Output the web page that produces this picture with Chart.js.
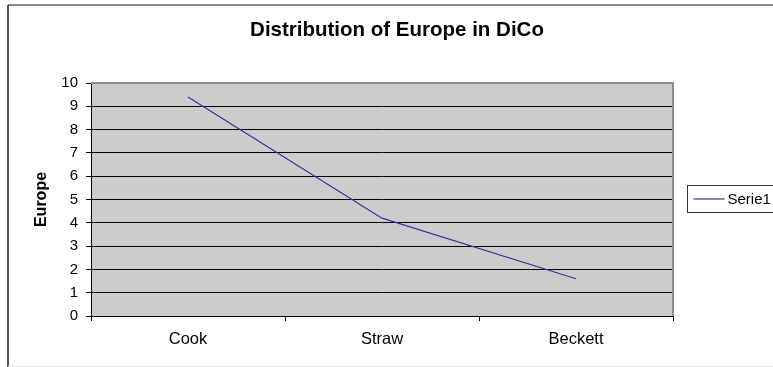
<!DOCTYPE html>
<html>
<head>
<meta charset="utf-8">
<script src="https://cdn.jsdelivr.net/npm/chart.js@4.4.1/dist/chart.umd.min.js"></script>
<style>
  html, body { margin: 0; padding: 0; background: #ffffff; }
  #wrap { width: 773px; height: 367px; position: relative; }
</style>
</head>
<body>
<div id="wrap"><canvas id="chart" width="773" height="367"></canvas></div>
<script>
// Chart data
const categories = ['Cook', 'Straw', 'Beckett'];
const europe = [9.4, 4.2, 1.6];
const seriesName = 'Serie1';
const yMin = 0;
const yMax = 10;
const yStep = 1;

const FONT = "'Liberation Sans', Arial, sans-serif";

// Page frame, grey plot fill, plot border and the side legend
const framePlugin = {
  id: 'frame',
  beforeDraw(chart) {
    const { ctx, chartArea: a, width, height } = chart;
    ctx.save();
    ctx.fillStyle = '#ffffff';
    ctx.fillRect(0, 0, width, height);
    // grey plot background
    ctx.fillStyle = '#cccccc';
    ctx.fillRect(a.left, a.top, a.right - a.left, a.bottom - a.top);
    // outer frame
    ctx.strokeStyle = '#8a8a8a';
    ctx.lineWidth = 2;
    ctx.beginPath();
    ctx.moveTo(width + 2, 5);
    ctx.lineTo(8, 5);
    ctx.stroke();
    ctx.strokeStyle = '#222222';
    ctx.lineWidth = 1.5;
    ctx.beginPath();
    ctx.moveTo(8, 5);
    ctx.lineTo(8, height);
    ctx.stroke();
    ctx.strokeStyle = '#e4e4e4';
    ctx.lineWidth = 1;
    ctx.beginPath();
    ctx.moveTo(8, height - 0.5);
    ctx.lineTo(width, height - 0.5);
    ctx.stroke();
    ctx.restore();
  },
  afterDraw(chart) {
    const { ctx, chartArea: a } = chart;
    ctx.save();
    // plot border on top and right
    ctx.strokeStyle = '#8c8c8c';
    ctx.lineWidth = 2;
    ctx.beginPath();
    ctx.moveTo(a.left, a.top);
    ctx.lineTo(a.right, a.top);
    ctx.lineTo(a.right, a.bottom);
    ctx.stroke();
    // legend
    const ds = chart.data.datasets[0];
    const lx = 687.5, ly = 185.5, lw = 100, lh = 27;
    ctx.strokeStyle = '#333333';
    ctx.lineWidth = 1;
    ctx.strokeRect(lx, ly, lw, lh);
    const cy = ly + lh / 2;
    ctx.strokeStyle = ds.borderColor;
    ctx.lineWidth = 1.2;
    ctx.beginPath();
    ctx.moveTo(lx + 6, cy);
    ctx.lineTo(lx + 37, cy);
    ctx.stroke();
    ctx.fillStyle = '#000000';
    ctx.font = '15px ' + FONT;
    ctx.textBaseline = 'middle';
    ctx.textAlign = 'left';
    ctx.fillText(ds.label, lx + 40, cy + 0.5);
    ctx.restore();
  }
};

new Chart(document.getElementById('chart'), {
  type: 'line',
  data: {
    labels: categories,
    datasets: [{
      label: seriesName,
      data: europe,
      borderColor: '#35359a',
      borderWidth: 1.2,
      pointRadius: 0,
      tension: 0,
      fill: false
    }]
  },
  options: {
    responsive: false,
    animation: false,
    devicePixelRatio: 1,
    layout: { padding: { left: 21, right: 0, top: 0, bottom: 0 } },
    plugins: {
      legend: { display: false },
      tooltip: { enabled: false },
      title: {
        display: true,
        text: 'Distribution of Europe in DiCo',
        color: '#000000',
        font: { family: FONT, size: 20.5, weight: 'bold' },
        padding: { top: 17.7, bottom: 40.7 }
      }
    },
    scales: {
      x: {
        type: 'category',
        offset: true,
        afterFit(scale) { scale.height = 51; },
        border: { display: true, color: '#000000', width: 1 },
        grid: {
          offset: true,
          drawOnChartArea: false,
          drawTicks: true,
          tickLength: 5,
          tickColor: '#000000',
          color: '#000000'
        },
        ticks: {
          color: '#000000',
          font: { family: FONT, size: 16.5 },
          padding: 9,
          maxRotation: 0
        }
      },
      y: {
        min: yMin,
        max: yMax,
        afterFit(scale) { scale.width = 70; },
        border: { display: true, color: '#000000', width: 1 },
        grid: {
          color: '#000000',
          lineWidth: 1,
          drawTicks: true,
          tickLength: 5,
          tickColor: '#000000'
        },
        ticks: {
          stepSize: yStep,
          color: '#000000',
          font: { family: FONT, size: 15 },
          padding: 8
        },
        title: {
          display: true,
          text: 'Europe',
          color: '#000000',
          font: { family: FONT, size: 16, weight: 'bold' },
          padding: { top: 11, bottom: 0 }
        }
      },
      // empty band on the right that leaves room for the legend
      side: {
        type: 'linear',
        position: 'right',
        display: true,
        afterFit(scale) { scale.width = 100; },
        grid: { display: false, drawOnChartArea: false },
        border: { display: false },
        ticks: { display: false }
      }
    }
  },
  plugins: [framePlugin]
});
</script>
</body>
</html>
